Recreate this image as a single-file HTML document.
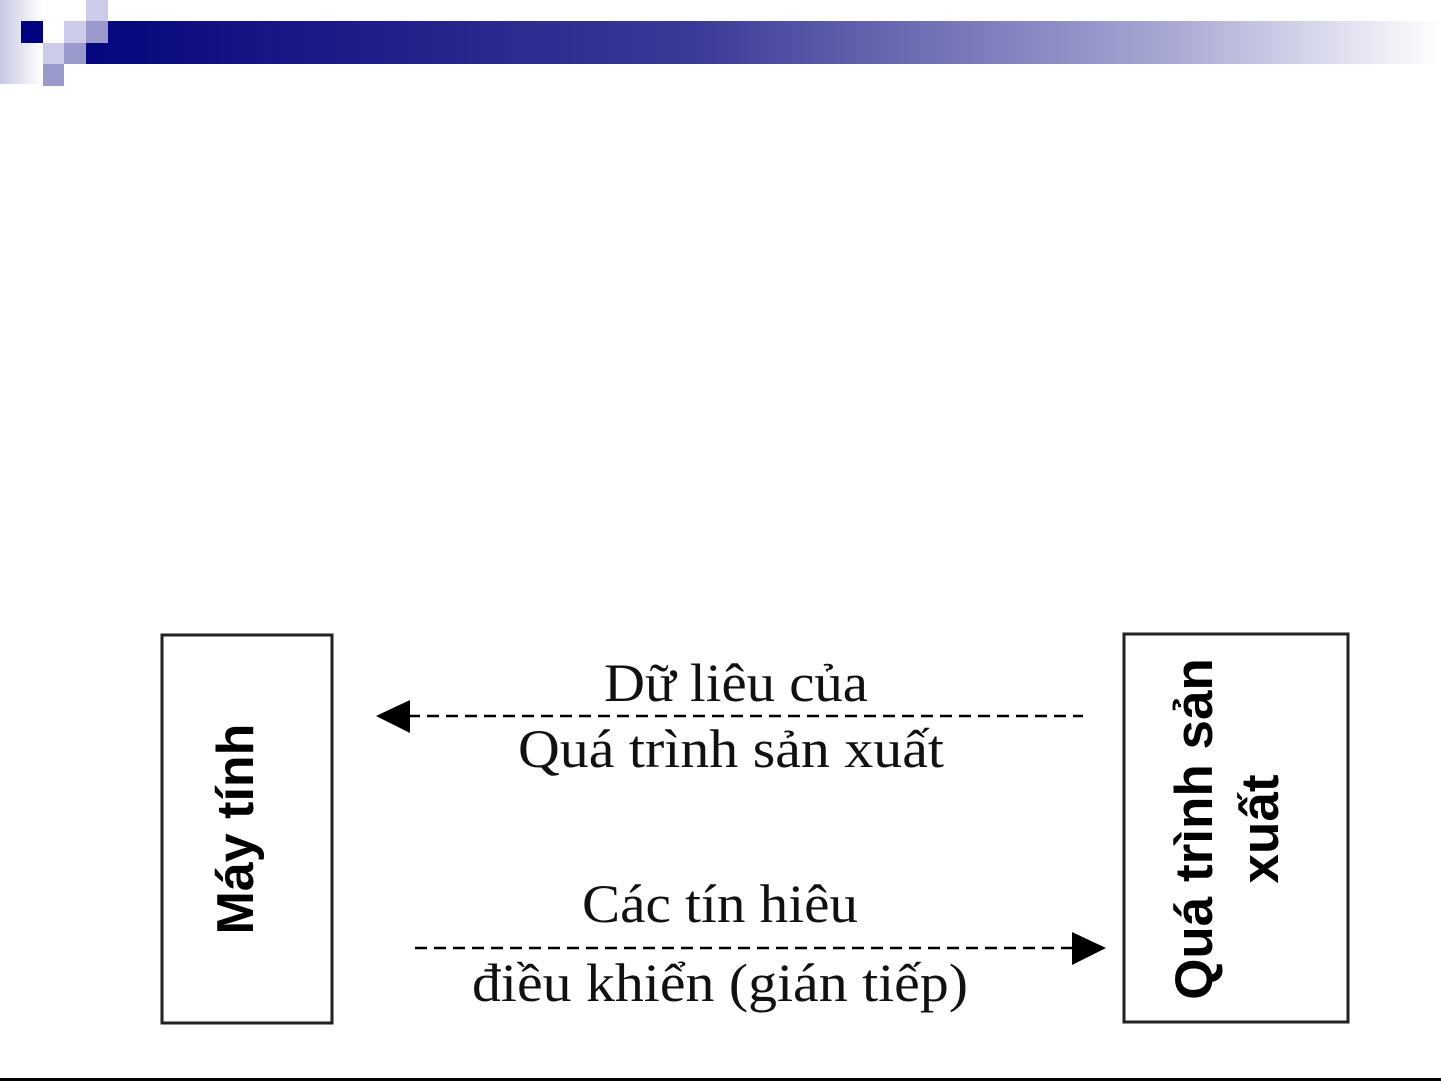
<!DOCTYPE html>
<html><head><meta charset="utf-8"><style>
html,body{margin:0;padding:0;background:#fff;width:1441px;height:1081px;overflow:hidden}
</style></head><body>
<svg width="1441" height="1081" xmlns="http://www.w3.org/2000/svg">
<defs>
<linearGradient id="g" x1="0" x2="1" y1="0" y2="0">
<stop offset="0" stop-color="#06067e"/><stop offset="0.45" stop-color="#3a3a98"/><stop offset="0.8" stop-color="#a8a8d4"/><stop offset="1" stop-color="#ffffff"/>
</linearGradient>
<linearGradient id="f" x1="0" x2="1" y1="0" y2="0">
<stop offset="0" stop-color="#c8c8e4"/><stop offset="1" stop-color="#ffffff"/>
</linearGradient>
</defs>
<rect x="0" y="0" width="43" height="84" fill="url(#f)"/>
<rect x="86" y="21" width="1355" height="43" fill="url(#g)"/>
<rect x="21" y="21" width="22" height="22" fill="#000080"/>
<rect x="86" y="0" width="22" height="21" fill="#ccccea"/>
<rect x="64" y="21" width="22" height="22" fill="#ccccea"/>
<rect x="86" y="21" width="22" height="22" fill="#9999cc"/>
<rect x="43" y="43" width="21" height="21" fill="#ccccea"/>
<rect x="64" y="43" width="22" height="21" fill="#9999cc"/>
<rect x="43" y="64" width="21" height="22" fill="#9999cc"/>
<rect x="0" y="1078" width="1441" height="3" fill="#000"/>

<rect x="162" y="635" width="170" height="388" fill="none" stroke="#222" stroke-width="3"/>
<rect x="1124" y="634" width="224" height="388" fill="none" stroke="#222" stroke-width="3"/>
<text transform="translate(253,829) rotate(-90)" text-anchor="middle" font-family="Liberation Sans, sans-serif" font-weight="bold" font-size="52">Máy tính</text>
<text transform="translate(1212,829) rotate(-90)" text-anchor="middle" font-family="Liberation Sans, sans-serif" font-weight="bold" font-size="53">Quá trình sản</text>
<text transform="translate(1278,829) rotate(-90)" text-anchor="middle" font-family="Liberation Sans, sans-serif" font-weight="bold" font-size="53">xuất</text>

<line x1="408" y1="716" x2="1083" y2="716" stroke="#000" stroke-width="2.5" stroke-dasharray="12,7"/>
<polygon points="376,716 410,700 410,733" fill="#000"/>
<line x1="415" y1="948" x2="1072" y2="948" stroke="#000" stroke-width="2.5" stroke-dasharray="12,7"/>
<polygon points="1106,948 1072,932 1072,965" fill="#000"/>

<g font-family="Liberation Serif, serif" font-size="54" fill="#111" lengthAdjust="spacingAndGlyphs">
<text x="604" y="701" textLength="264" lengthAdjust="spacingAndGlyphs">Dữ liêu của</text>
<text x="518" y="767" textLength="426" lengthAdjust="spacingAndGlyphs">Quá trình sản xuất</text>
<text x="582" y="922" textLength="276" lengthAdjust="spacingAndGlyphs">Các tín hiêu</text>
<text x="472" y="1001" textLength="496" lengthAdjust="spacingAndGlyphs">điều khiển (gián tiếp)</text>
</g>
</svg>
</body></html>
